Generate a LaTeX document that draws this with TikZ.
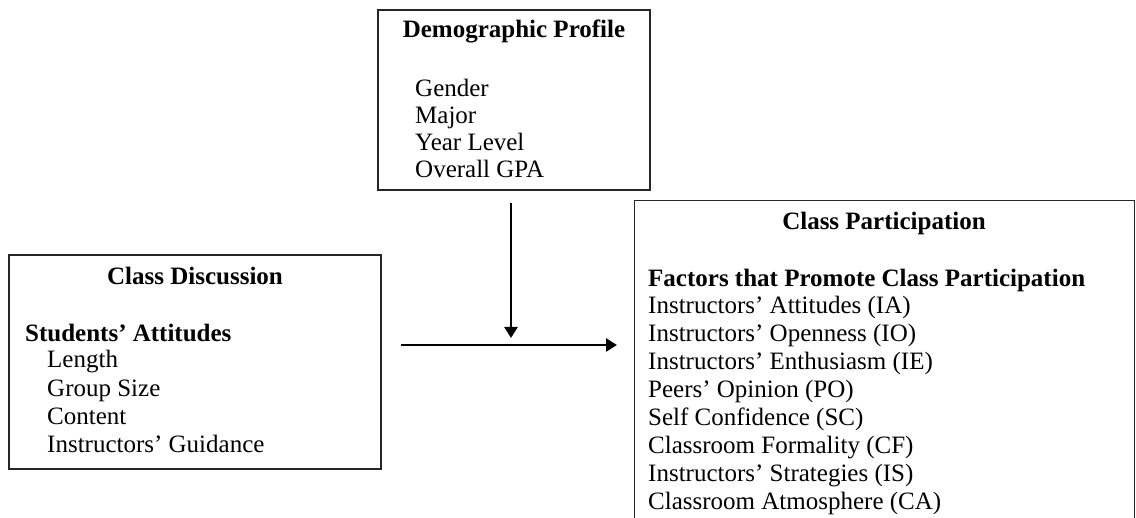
\documentclass[tikz,border=0pt]{standalone}
\usepackage{fontspec}
\setmainfont{Liberation Serif}
\usetikzlibrary{arrows.meta}

\newcommand{\figfont}{\fontsize{25}{28}\selectfont}

\begin{document}
\begin{tikzpicture}[x=1pt,y=-1pt,font=\figfont,
    box/.style={draw=black!85, line width=1.3pt, inner sep=0pt},
    head/.style={font=\figfont\bfseries, anchor=base, inner sep=0pt},
    sub/.style={font=\figfont\bfseries, anchor=base west, inner sep=0pt},
    item/.style={anchor=base west, inner sep=0pt},
    link/.style={line width=2.5pt, -{Triangle[length=11pt,width=13pt]}}]

    \path[use as bounding box, clip] (0,0) rectangle (1136,518);

    % boxes
    \node[box, minimum width=272pt, minimum height=180pt] (demo) at (514,100) {};
    \node[box, minimum width=372pt, minimum height=214pt] (disc) at (195,362) {};
    \node[box, minimum width=500pt, minimum height=340pt, anchor=north west] (part) at (634,200) {};

    % demographic profile
    \node[head] (demotitle) at (514,38) {Demographic Profile};
    \foreach \t [count=\i] in {Gender, Major, Year Level, Overall GPA}
      \node[item] (demo\i) at (415,{97+26.7*(\i-1)}) {\t};

    % class discussion
    \node[head] (disctitle) at (195,285) {Class Discussion};
    \node[sub] (discsub) at (25,342) {Students’ Attitudes};
    \foreach \t [count=\i] in {Length, Group Size, Content, Instructors’ Guidance}
      \node[item] (disc\i) at (47,{368+28.3*(\i-1)}) {\t};

    % class participation
    \node[head] (parttitle) at (884,230) {Class Participation};
    \node[sub] (partsub) at (648,287) {Factors that Promote Class Participation};
    \foreach \t [count=\i] in {Instructors’ Attitudes (IA), Instructors’ Openness (IO),
        Instructors’ Enthusiasm (IE), Peers’ Opinion (PO), Self Confidence (SC),
        Classroom Formality (CF), Instructors’ Strategies (IS), Classroom Atmosphere (CA)}
      \node[item] (part\i) at (648,{314+28*(\i-1)}) {\t};

    % arrows
    \coordinate (hline) at (0,345);
    \draw[link, shorten <=12pt, shorten >=7pt] ([xshift=-3pt]demo.south) -- ([xshift=-3pt]demo.south |- hline);
    \draw[link, shorten <=19pt, shorten >=17pt] (disc.east |- hline) -- (part.west |- hline);
\end{tikzpicture}
\end{document}
